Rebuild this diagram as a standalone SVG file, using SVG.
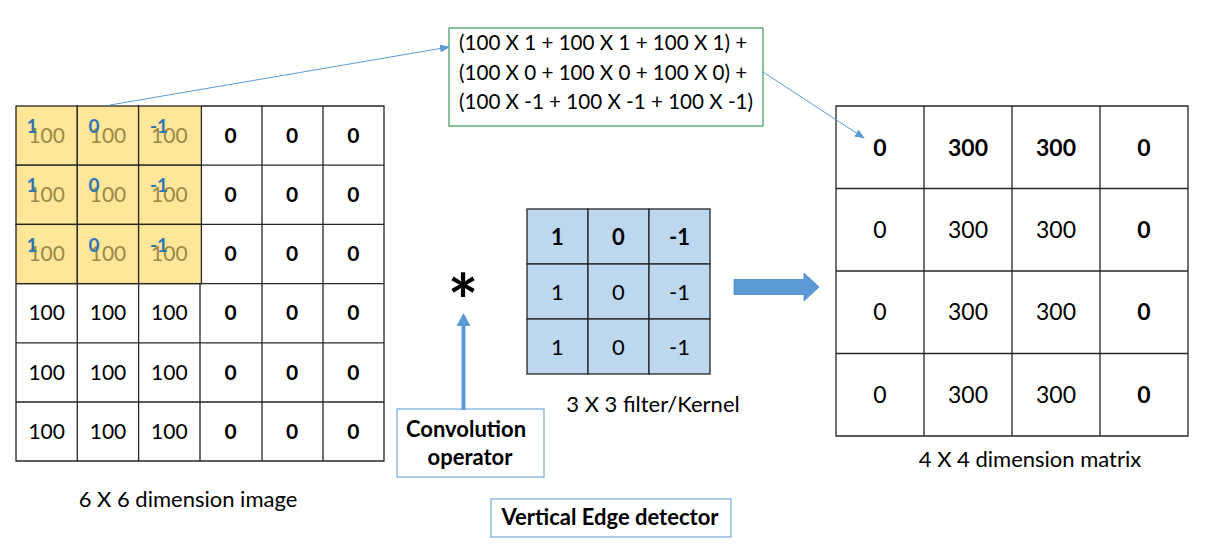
<svg xmlns="http://www.w3.org/2000/svg" width="1206" height="548" viewBox="0 0 1206 548">
<defs>
<style>
text{font-family:Lato,"Liberation Sans",sans-serif;fill:#000}
.y{fill:#FFE699;stroke:#262626;stroke-width:1.3}
.k{fill:#BDD7EE;stroke:#262626;stroke-width:1.3}
.c20{font-size:21px;text-anchor:middle}
.c21{font-size:22px;text-anchor:middle}
.c23{font-size:23px;text-anchor:middle}
.b{font-weight:bold}
.ol{fill:#9C8845}
.bl{fill:#2E75B6;font-size:19px;font-weight:bold;text-anchor:middle}
.lbl{font-size:22px}
.fx{font-size:20.6px}
.thin{stroke:#5B9BD5;stroke-width:1;fill:none}
</style>
<marker id="ah" markerWidth="10" markerHeight="8" refX="9" refY="4" orient="auto" markerUnits="userSpaceOnUse">
<path d="M0,0 L10,4 L0,8 Z" fill="#5B9BD5"/>
</marker>
</defs>
<rect width="1206" height="548" fill="#fff"/>

<g id="image6x6">
<rect class="y" x="16" y="106" width="61.3" height="59.2"/>
<rect class="y" x="77.3" y="106" width="61.3" height="59.2"/>
<rect class="y" x="138.6" y="106" width="62.8" height="59.2"/>
<rect class="y" x="16" y="165.2" width="61.3" height="59.2"/>
<rect class="y" x="77.3" y="165.2" width="61.3" height="59.2"/>
<rect class="y" x="138.6" y="165.2" width="62.8" height="59.2"/>
<rect class="y" x="16" y="224.4" width="61.3" height="59.2"/>
<rect class="y" x="77.3" y="224.4" width="61.3" height="59.2"/>
<rect class="y" x="138.6" y="224.4" width="62.8" height="59.2"/>
<path d="M201.4,106 H384 V461 H16 V283.6 M16,283.6 H384 M16,342.8 H384 M16,402 H384 M201.4,165.2 H384 M201.4,224.4 H384 M77.3,283.6 V461 M138.6,283.6 V461 M200,283.6 V461 M262,106 V461 M323,106 V461" fill="none" stroke="#262626" stroke-width="1.3"/>
<text class="c20 ol" x="46.7" y="143">100</text>
<text class="c20 ol" x="108" y="143">100</text>
<text class="c20 ol" x="169.3" y="143">100</text>
<text class="c20 ol" x="46.7" y="202">100</text>
<text class="c20 ol" x="108" y="202">100</text>
<text class="c20 ol" x="169.3" y="202">100</text>
<text class="c20 ol" x="46.7" y="261">100</text>
<text class="c20 ol" x="108" y="261">100</text>
<text class="c20 ol" x="169.3" y="261">100</text>
<text class="bl" x="32" y="133">1</text>
<text class="bl" x="94" y="133">0</text>
<text class="bl" x="159" y="133">-1</text>
<text class="bl" x="32" y="192">1</text>
<text class="bl" x="94" y="192">0</text>
<text class="bl" x="159" y="192">-1</text>
<text class="bl" x="32" y="252">1</text>
<text class="bl" x="94" y="252">0</text>
<text class="bl" x="159" y="252">-1</text>
<text class="c20 b" x="230.7" y="143">0</text>
<text class="c20 b" x="292" y="143">0</text>
<text class="c20 b" x="353.3" y="143">0</text>
<text class="c20 b" x="230.7" y="202">0</text>
<text class="c20 b" x="292" y="202">0</text>
<text class="c20 b" x="353.3" y="202">0</text>
<text class="c20 b" x="230.7" y="261">0</text>
<text class="c20 b" x="292" y="261">0</text>
<text class="c20 b" x="353.3" y="261">0</text>
<text class="c20" x="46.7" y="320">100</text>
<text class="c20" x="108" y="320">100</text>
<text class="c20" x="169.3" y="320">100</text>
<text class="c20 b" x="230.7" y="320">0</text>
<text class="c20 b" x="292" y="320">0</text>
<text class="c20 b" x="353.3" y="320">0</text>
<text class="c20" x="46.7" y="379.5">100</text>
<text class="c20" x="108" y="379.5">100</text>
<text class="c20" x="169.3" y="379.5">100</text>
<text class="c20 b" x="230.7" y="379.5">0</text>
<text class="c20 b" x="292" y="379.5">0</text>
<text class="c20 b" x="353.3" y="379.5">0</text>
<text class="c20" x="46.7" y="438.5">100</text>
<text class="c20" x="108" y="438.5">100</text>
<text class="c20" x="169.3" y="438.5">100</text>
<text class="c20 b" x="230.7" y="438.5">0</text>
<text class="c20 b" x="292" y="438.5">0</text>
<text class="c20 b" x="353.3" y="438.5">0</text>
<text class="lbl" x="188" y="507" text-anchor="middle">6 X 6 dimension image</text>
</g>

<g id="formula">
<rect x="449" y="28" width="314" height="98" fill="#fff" stroke="#3E9A5E" stroke-width="1.2"/>
<text class="fx" x="459" y="50">(100 X 1 + 100 X 1 + 100 X 1) +</text>
<text class="fx" x="459" y="80">(100 X 0 + 100 X 0 + 100 X 0) +</text>
<text class="fx" x="459" y="109">(100 X -1 + 100 X -1 + 100 X -1)</text>
</g>

<g id="kernel">
<rect class="k" x="527" y="209" width="61" height="55"/>
<rect class="k" x="588" y="209" width="61" height="55"/>
<rect class="k" x="649" y="209" width="61" height="55"/>
<rect class="k" x="527" y="264" width="61" height="55"/>
<rect class="k" x="588" y="264" width="61" height="55"/>
<rect class="k" x="649" y="264" width="61" height="55"/>
<rect class="k" x="527" y="319" width="61" height="55"/>
<rect class="k" x="588" y="319" width="61" height="55"/>
<rect class="k" x="649" y="319" width="61" height="55"/>
<text class="c21 b" x="557.5" y="244.5">1</text>
<text class="c21 b" x="618.5" y="244.5">0</text>
<text class="c21 b" x="679.5" y="244.5">-1</text>
<text class="c21" x="557.5" y="299.5">1</text>
<text class="c21" x="618.5" y="299.5">0</text>
<text class="c21" x="679.5" y="299.5">-1</text>
<text class="c21" x="557.5" y="354.5">1</text>
<text class="c21" x="618.5" y="354.5">0</text>
<text class="c21" x="679.5" y="354.5">-1</text>
<text class="lbl" x="653" y="412" text-anchor="middle">3 X 3 filter/Kernel</text>
</g>

<g id="operator">
<text x="463" y="328" font-family="'DejaVu Sans',sans-serif" font-size="72" font-weight="bold" text-anchor="middle">*</text>
</g>

<g id="conv-label">
<rect x="397" y="409" width="147" height="68" fill="#fff" stroke="#5B9BD5" stroke-width="1"/>
<text class="lbl b" x="466" y="437" text-anchor="middle">Convolution</text>
<text class="lbl b" x="470" y="465" text-anchor="middle">operator</text>
</g>

<g id="edge-label">
<rect x="491" y="499" width="240" height="38" fill="#fff" stroke="#5B9BD5" stroke-width="1"/>
<text class="lbl b" x="610" y="525" text-anchor="middle">Vertical Edge detector</text>
</g>

<g id="output4x4">
<path d="M836,106 H1188 V436 H836 Z M836,188.5 H1188 M836,271 H1188 M836,353.5 H1188 M924,106 V436 M1012,106 V436 M1100,106 V436" fill="#fff" stroke="#262626" stroke-width="1.3"/>
<text class="c23 b" x="880" y="156">0</text>
<text class="c23 b" x="968" y="156">300</text>
<text class="c23 b" x="1056" y="156">300</text>
<text class="c23 b" x="1144" y="156">0</text>
<text class="c23" x="880" y="238">0</text>
<text class="c23" x="968" y="238">300</text>
<text class="c23" x="1056" y="238">300</text>
<text class="c23 b" x="1144" y="238">0</text>
<text class="c23" x="880" y="320">0</text>
<text class="c23" x="968" y="320">300</text>
<text class="c23" x="1056" y="320">300</text>
<text class="c23 b" x="1144" y="320">0</text>
<text class="c23" x="880" y="403">0</text>
<text class="c23" x="968" y="403">300</text>
<text class="c23" x="1056" y="403">300</text>
<text class="c23 b" x="1144" y="403">0</text>
<text class="lbl" x="1030" y="467" text-anchor="middle">4 X 4 dimension matrix</text>
</g>

<g id="connectors">
<line class="thin" x1="110" y1="105" x2="449" y2="47" marker-end="url(#ah)"/>
<line class="thin" x1="763" y1="72" x2="864" y2="138" marker-end="url(#ah)"/>
<path d="M461.5,410 V326 H456.5 L463.5,313 L470.5,326 H465.5 V410 Z" fill="#5B9BD5"/>
<path d="M734,279.5 H804 V273 L819,287 L804,301 V294.5 H734 Z" fill="#5B9BD5" stroke="#4A86C0" stroke-width="0.8"/>
</g>
</svg>
